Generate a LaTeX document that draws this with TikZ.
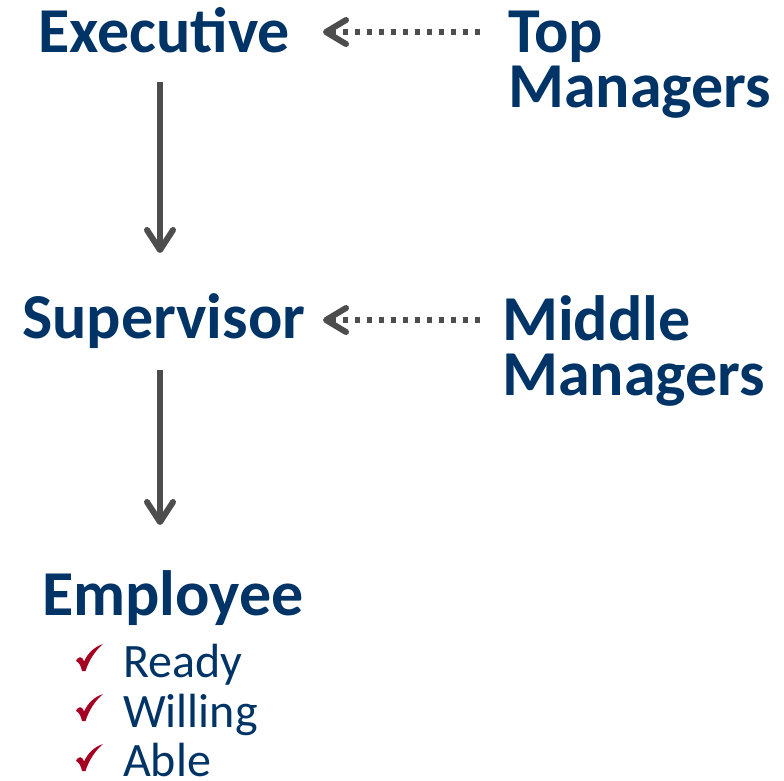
\documentclass[tikz,border=0pt]{standalone}
\usepackage{fontspec}
\setmainfont{Carlito}
\usetikzlibrary{arrows.meta}
\definecolor{navy}{RGB}{0,51,102}
\definecolor{grayarrow}{RGB}{77,77,77}
\definecolor{checkred}{RGB}{165,0,33}
\tikzset{
  x=1pt,y=-1pt,
  big/.style={inner sep=0pt,anchor=base west,text=navy,font=\fontsize{64}{64}\selectfont\bfseries},
  item/.style={inner sep=0pt,anchor=base west,text=navy,font=\fontsize{48}{48}\selectfont},
  downarrow/.style={draw=grayarrow,line width=6pt,-{Straight Barb[length=20pt,width=26pt,line width=6pt,line cap=round,line join=round]}},
  dotarrow/.style={draw=grayarrow,line width=5.5pt,dash pattern=on 5pt off 7pt,-{Straight Barb[length=20pt,width=24pt,line width=6pt,line cap=round,line join=round]}},
  checkmark/.pic={\fill[checkred] (0,-1) .. controls (3,-4) and (5.5,-3) .. (7,1.5) .. controls (11,-7) and (17,-13) .. (26,-16) .. controls (18,-9) and (12,0) .. (8.5,11) -- (5,11) .. controls (4,6) and (2,2) .. (-1,1) -- cycle;}
}
\begin{document}
\begin{tikzpicture}
\useasboundingbox (0,0) rectangle (784,780);
\node[big] (exec) at (38,52) {Executive};
\node[big] (sup) at (22,338) {Supervisor};
\node[big] (emp) at (42,615) {Employee};
\node[big] (top) at (508,52) {Top};
\node[big] (topm) at (508,107) {Managers};
\node[big] (mid) at (502,340) {Middle};
\node[big] (midm) at (502,395) {Managers};
\node[item] (ready) at (123,677) {Ready};
\node[item] (willing) at (123,727) {Willing};
\node[item] (able) at (123,776) {Able};
\pic at (77,660) {checkmark};
\pic at (77,710) {checkmark};
\pic at (77,760) {checkmark};
\coordinate (e1) at (160,82);
\coordinate (s1) at (160,253);
\coordinate (e2) at (160,370);
\coordinate (s2) at (160,525);
\draw[downarrow] (e1) -- (s1);
\draw[downarrow] (e2) -- (s2);
\coordinate (t1) at (480,32);
\coordinate (t2) at (323,32);
\coordinate (m1) at (480,320);
\coordinate (m2) at (323,320);
\draw[dotarrow] (t1) -- (t2);
\draw[dotarrow] (m1) -- (m2);
\end{tikzpicture}
\end{document}
